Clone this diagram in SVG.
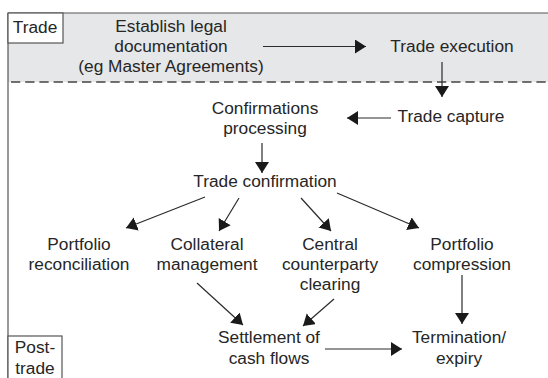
<svg xmlns="http://www.w3.org/2000/svg" width="548" height="378" viewBox="0 0 548 378">
<defs>
<style>
text{font-family:"Liberation Sans",Arial,sans-serif;font-size:17.3px;fill:#262626;text-anchor:middle}
.c{stroke:#2b2b2b;stroke-width:1.2;fill:none}
.frame{stroke:#555;stroke-width:1.2;fill:none}
</style>
<marker id="ah" markerUnits="userSpaceOnUse" markerWidth="14" markerHeight="16" refX="11" refY="7" orient="auto">
<path d="M0,0 L11,7 L0,14 z" fill="#1a1a1a"/>
</marker>
</defs>
<g id="background">
<rect x="8" y="13" width="545" height="69" fill="#e6e7e8"/>
<line x1="8" y1="13" x2="548" y2="13" class="frame"/>
<line x1="8" y1="13" x2="8" y2="378" class="frame"/>
<line x1="8" y1="82" x2="548" y2="82" stroke="#444" stroke-width="1.5" stroke-dasharray="9.3,4.9" stroke-dashoffset="-3"/>
</g>
<g id="trade-label">
<rect x="8" y="13" width="55" height="30" fill="#fff" stroke="#555" stroke-width="1.2"/>
<text x="35" y="33">Trade</text>
</g>
<g id="posttrade-label">
<rect x="8" y="336" width="54" height="50" fill="#fff" stroke="#555" stroke-width="1.2"/>
<text x="35" y="353">Post-</text>
<text x="35" y="374">trade</text>
</g>
<g id="establish"><text x="171" y="32">Establish legal</text><text x="171" y="52">documentation</text><text x="171" y="72">(eg Master Agreements)</text></g>
<g id="trade-execution"><text x="452" y="52">Trade execution</text></g>
<g id="trade-capture"><text x="451" y="122">Trade capture</text></g>
<g id="confirmations-processing"><text x="265" y="114">Confirmations</text><text x="265" y="134">processing</text></g>
<g id="trade-confirmation"><text x="265" y="187">Trade confirmation</text></g>
<g id="portfolio-reconciliation"><text x="79" y="250">Portfolio</text><text x="79" y="270">reconciliation</text></g>
<g id="collateral-management"><text x="207" y="250">Collateral</text><text x="207" y="270">management</text></g>
<g id="ccp-clearing"><text x="330" y="250">Central</text><text x="330" y="270">counterparty</text><text x="330" y="290">clearing</text></g>
<g id="portfolio-compression"><text x="462" y="250">Portfolio</text><text x="462" y="270">compression</text></g>
<g id="settlement"><text x="269" y="343">Settlement of</text><text x="269" y="364">cash flows</text></g>
<g id="termination"><text x="459" y="343">Termination/</text><text x="459" y="364">expiry</text></g>
<g id="connectors" class="c">
<line x1="263" y1="46.5" x2="366" y2="46.5" marker-end="url(#ah)"/>
<line x1="442" y1="62" x2="442" y2="97" marker-end="url(#ah)"/>
<line x1="391" y1="118" x2="347" y2="118" marker-end="url(#ah)"/>
<line x1="262" y1="143" x2="262" y2="173" marker-end="url(#ah)"/>
<line x1="205" y1="197" x2="126" y2="228" marker-end="url(#ah)"/>
<line x1="239" y1="198" x2="219" y2="231" marker-end="url(#ah)"/>
<line x1="301" y1="198" x2="331" y2="231" marker-end="url(#ah)"/>
<line x1="337" y1="193" x2="419" y2="228" marker-end="url(#ah)"/>
<line x1="197" y1="283" x2="243" y2="325" marker-end="url(#ah)"/>
<line x1="334" y1="299" x2="303" y2="326" marker-end="url(#ah)"/>
<line x1="462" y1="275" x2="462" y2="324" marker-end="url(#ah)"/>
<line x1="325" y1="349" x2="402" y2="349" marker-end="url(#ah)"/>
</g>
</svg>
